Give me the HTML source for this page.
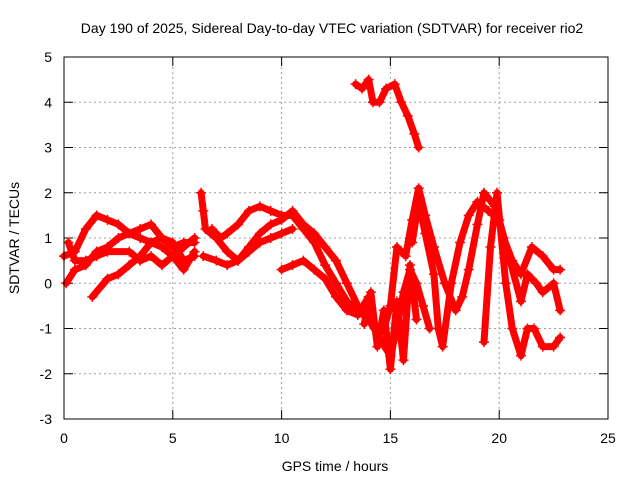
<!DOCTYPE html>
<html><head><meta charset="utf-8"><style>
body{margin:0;background:#fff}
svg text{font-family:"Liberation Sans",sans-serif;font-size:14px;fill:#000}
</style></head><body>
<svg id="chart" width="640" height="480">
<text x="332" y="33" text-anchor="middle">Day 190 of 2025, Sidereal Day-to-day VTEC variation (SDTVAR) for receiver rio2</text>
<text x="335" y="471" text-anchor="middle">GPS time / hours</text>
<text transform="translate(19,238) rotate(-90)" text-anchor="middle">SDTVAR / TECUs</text>
<g id="grid"></g><g id="marks"></g>
<rect x="64" y="57" width="544" height="362" fill="none" stroke="#000" stroke-width="1"/>
</svg>
<script>
const xTicks=[0,5,10,15,20,25];
const yTicks=[-3,-2,-1,0,1,2,3,4,5];
const trackA=[[13.4,4.4],[13.7,4.3],[14.0,4.5],[14.2,4.0],[14.5,4.0],[14.8,4.3],[15.2,4.4],[15.5,4.0],[15.8,3.7],[16.1,3.3],[16.3,3.0]];
const track1=[[0.0,0.6],[0.5,0.7],[1.0,1.2],[1.5,1.5],[2.0,1.4],[2.5,1.3],[3.0,1.1],[3.5,1.0],[4.0,0.9],[4.5,0.8],[5.0,0.6],[5.5,0.3],[6.0,0.7]];
const track2=[[0.1,0.0],[0.5,0.3],[1.0,0.4],[1.5,0.7],[2.0,0.8],[2.5,1.0],[3.0,1.1],[3.5,1.2],[4.0,1.3],[4.5,1.0],[5.0,0.8],[5.5,0.9],[6.0,0.9]];
const track3=[[1.3,-0.3],[2.0,0.1],[2.5,0.2],[3.0,0.4],[3.5,0.6],[4.0,0.9],[4.5,1.0],[5.0,0.9],[5.5,0.5],[6.0,0.6]];
const track4=[[0.2,0.9],[0.5,0.5],[1.0,0.5],[1.5,0.6],[2.0,0.7],[3.0,0.7],[3.5,0.5],[4.0,0.6],[4.5,0.4],[5.0,0.6],[5.5,0.8],[6.0,1.0]];
const track5=[[6.3,2.0],[6.4,1.6],[6.5,1.2],[7.0,1.0],[7.5,0.7],[8.0,0.5],[8.5,0.7],[9.0,0.9],[9.5,1.0],[10.0,1.1],[10.5,1.2]];
const track6=[[6.4,0.6],[7.0,0.5],[7.5,0.4],[8.0,0.5],[8.5,0.8],[9.0,1.1],[9.5,1.3],[10.0,1.4],[10.5,1.6],[11.0,1.3],[11.5,1.1],[12.0,0.8],[12.5,0.5],[13.0,0.0],[13.5,-0.5],[14.0,-0.8],[14.5,-1.2],[15.0,-1.5]];
const track7=[[6.8,1.2],[7.2,1.0],[7.5,1.1],[8.0,1.3],[8.5,1.6],[9.0,1.7],[9.5,1.6],[10.0,1.5],[10.5,1.5],[11.0,1.2],[11.5,0.9],[12.0,0.4],[12.5,0.0],[13.0,-0.4],[13.5,-0.6],[14.0,-0.8]];
const track8=[[10.0,0.3],[10.5,0.4],[11.0,0.5],[11.5,0.3],[12.0,0.1],[12.5,-0.3],[13.0,-0.6],[13.5,-0.7],[14.0,-0.3],[14.3,-1.0],[14.6,-1.3],[15.0,-1.6],[15.3,-1.0],[15.6,-0.2],[15.9,0.3],[16.2,0.0],[16.5,-0.5],[16.8,-1.0]];
const track9=[[14.7,-1.0],[15.0,-0.5],[15.3,0.8],[15.7,0.6],[16.0,1.4],[16.3,2.1],[16.6,1.5],[17.0,0.8],[17.5,0.0],[18.0,-0.6],[18.3,-0.3],[18.6,0.3],[19.0,1.3],[19.3,2.0],[19.8,1.7],[20.2,1.0],[20.6,0.5],[21.0,0.2],[21.5,0.8],[22.0,0.6],[22.5,0.3],[22.8,0.3]];
const track10=[[16.0,0.9],[16.3,1.8],[16.6,1.1],[17.0,0.2],[17.2,-1.0],[17.4,-1.4],[17.8,0.0],[18.2,0.9],[18.6,1.5],[19.0,1.8],[19.5,1.6],[20.0,1.4],[20.5,0.5],[21.0,-0.4],[21.3,0.2],[21.7,0.0],[22.0,-0.2],[22.5,0.0],[22.8,-0.6]];
const track11=[[19.3,-1.3],[19.6,0.8],[19.9,2.0],[20.3,0.0],[20.6,-1.0],[21.0,-1.6],[21.3,-1.0],[21.6,-1.0],[22.0,-1.4],[22.5,-1.4],[22.8,-1.2]];
const track12=[[13.8,-0.9],[14.1,-0.2],[14.4,-1.4],[14.7,-0.6],[15.0,-1.9],[15.3,-0.4],[15.6,-1.7],[15.9,0.4],[16.2,-0.8]];
const tracks=[trackA,track1,track2,track3,track4,track5,track6,track7,track8,track9,track10,track11,track12];
const NS="http://www.w3.org/2000/svg";
const X=h=>64+h*(544/25), Y=v=>57+(5-v)*(362/8);
const grid=document.getElementById('grid'), marks=document.getElementById('marks');
function mk(tag,at,parent){const e=document.createElementNS(NS,tag);for(const k in at)e.setAttribute(k,at[k]);parent.appendChild(e);return e;}
xTicks.forEach(t=>{
  if(t>0&&t<25){const l=mk('line',{x1:X(t),x2:X(t),y1:57,y2:419,stroke:'#a0a0a0','stroke-dasharray':'2,3'},grid);
  
  }
  mk('line',{x1:X(t),x2:X(t),y1:419,y2:410,stroke:'#000'},grid);
  mk('line',{x1:X(t),x2:X(t),y1:57,y2:66,stroke:'#000'},grid);
  const tx=mk('text',{x:X(t),y:443,'text-anchor':'middle'},grid);tx.textContent=t;
  
  
});
yTicks.forEach(t=>{
  if(t>-3&&t<5){const l=mk('line',{x1:64,x2:608,y1:Y(t),y2:Y(t),stroke:'#a0a0a0','stroke-dasharray':'2,3'},grid);
  
  }
  mk('line',{x1:64,x2:73,y1:Y(t),y2:Y(t),stroke:'#000'},grid);
  mk('line',{x1:599,x2:608,y1:Y(t),y2:Y(t),stroke:'#000'},grid);
  const tx=mk('text',{x:52,y:Y(t)+5,'text-anchor':'end'},grid);tx.textContent=t;
  
  
});
tracks.forEach((tr,i)=>{
  const p=mk('polyline',{points:tr.map(d=>X(d[0])+','+Y(d[1])).join(' '),fill:'none',stroke:'#ff0000','stroke-width':7,'stroke-linejoin':'round','stroke-linecap':'round'},marks);
  
  
  tr.forEach(d=>{
    const m=mk('path',{d:`M${X(d[0])-5},${Y(d[1])}h10M${X(d[0])},${Y(d[1])-5}v10`,stroke:'#ff0000','stroke-width':1.5},marks);
    
    
  });
});
</script>
</body></html>
